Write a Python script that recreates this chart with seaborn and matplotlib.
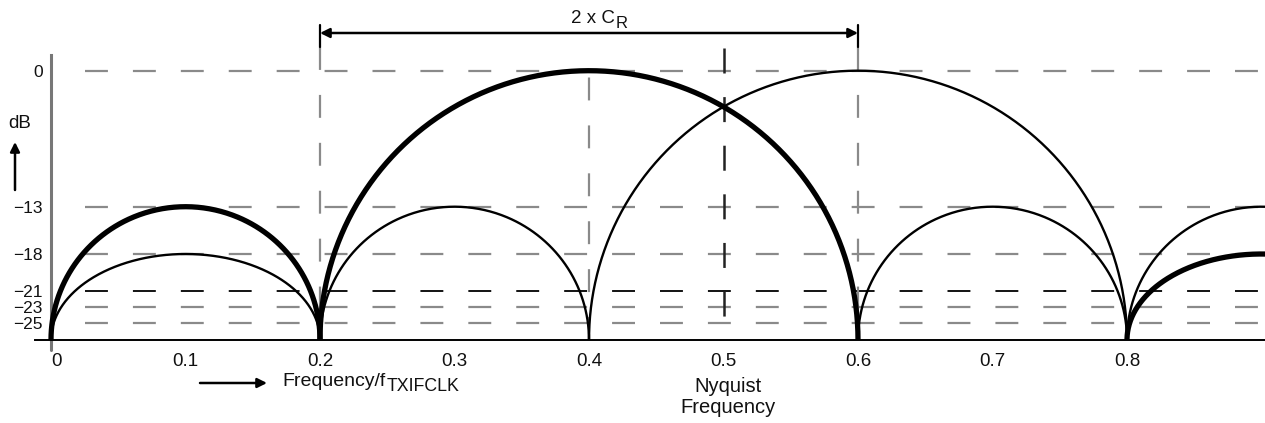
import numpy as np
import pandas as pd
import seaborn as sns
import matplotlib.pyplot as plt

# arcs of the spectrum: start / end frequency and peak level in dB
bold_start = [0.0, 0.2, 0.8]
bold_end = [0.2, 0.6, 1.0]
bold_peak = [-13, 0, -18]

thin_start = [0.0, 0.2, 0.4, 0.6, 0.8]
thin_end = [0.2, 0.4, 0.8, 0.8, 1.0]
thin_peak = [-18, -13, 0, -13, -13]

db_levels = [0, -13, -18, -21, -23, -25]
db_labels = ['0', '\u221213', '\u221218', '\u221221', '\u221223', '\u221225']
x_ticks = [0, 0.1, 0.2, 0.3, 0.4, 0.5, 0.6, 0.7, 0.8]
x_labels = ['0', '0.1', '0.2', '0.3', '0.4', '0.5', '0.6', '0.7', '0.8']

# the dB axis in the drawing is not evenly spaced:
# height above the floor (px) of each labelled level
scale_db = [-25, -23, -21, -18, -13, 0]
scale_h = [17, 33, 49.3, 86, 133.3, 269.3]

sns.set_theme(style='white')
plt.rcParams['font.family'] = ['Liberation Sans', 'DejaVu Sans']
plt.rcParams['lines.scale_dashes'] = False

# extend the piecewise scale linearly past both ends
lo_slope = (scale_h[1] - scale_h[0]) / (scale_db[1] - scale_db[0])
hi_slope = (scale_h[-1] - scale_h[-2]) / (scale_db[-1] - scale_db[-2])
db_ext = np.array([-80] + scale_db + [60], dtype=float)
h_ext = np.array([scale_h[0] - 55 * lo_slope] + scale_h + [scale_h[-1] + 60 * hi_slope])


def fwd(y):
    return np.interp(y, db_ext, h_ext)


def inv(h):
    return np.interp(h, h_ext, db_ext)


floor_db = float(inv(0))
top_db = float(inv(340))

# build the arcs (ellipses in drawing space)
rows = []
t = np.linspace(0, np.pi, 500)
for kind, st, en, pk in [('bold', bold_start, bold_end, bold_peak),
                         ('thin', thin_start, thin_end, thin_peak)]:
    for i, (a, b, p) in enumerate(zip(st, en, pk)):
        c, r = (a + b) / 2, (b - a) / 2
        xs = c + r * np.cos(t)
        ys = inv(fwd(p) * np.sin(t))
        rows.append(pd.DataFrame({'f': xs, 'db': ys, 'arc': f'{kind}{i}', 'kind': kind}))
df = pd.concat(rows, ignore_index=True)

fig = plt.figure(figsize=(12.65, 4.23), dpi=100)
ax = fig.add_axes([35 / 1265, 83 / 423, 1230 / 1265, 340 / 423])

sns.lineplot(data=df, x='f', y='db', units='arc', estimator=None, size='kind',
             sizes={'bold': 3.8, 'thin': 1.7}, color='black', sort=False,
             legend=False, ax=ax, zorder=5)

ax.set_yscale('function', functions=(fwd, inv))
ax.set_xlim(-16 / 1345, 1214 / 1345)
ax.set_ylim(floor_db, top_db)

grey = '#8a8a8a'
ink = '#111111'
dash = (0, (16.5, 18))
# horizontal level lines
for lvl in db_levels:
    col, lw = (('black', 1.3) if lvl == -21 else (grey, 1.6))
    ax.hlines(lvl, 0.0253, 0.95, colors=col, linewidth=lw, linestyles=[dash], zorder=2)

xt = ax.get_xaxis_transform()
# vertical markers
for xv in [0.2, 0.6]:
    ax.plot([xv, xv], [293 / 340, 0], transform=xt, color=grey, lw=1.6, ls=dash, zorder=2)
    ax.plot([xv, xv], [315 / 340, 293 / 340], transform=xt, color='black', lw=1.6, zorder=3)
ax.vlines(0.4, floor_db, 0, colors=grey, linewidth=1.6, linestyles=[dash], zorder=2)
ax.plot([0.5, 0.5], [292 / 340, 22 / 340], transform=xt, color='#222222', lw=1.8,
        ls=(0, (18, 17)), zorder=3)

ax.annotate('', xy=(0.2, 307 / 340), xytext=(0.6, 307 / 340), xycoords=xt,
            arrowprops=dict(arrowstyle='<|-|>', color='black', lw=1.8,
                            mutation_scale=14, shrinkA=0, shrinkB=0))

# axes
for s in ['top', 'right']:
    ax.spines[s].set_visible(False)
ax.spines['left'].set_position(('data', 0))
ax.spines['left'].set_bounds(floor_db, float(inv(285)))
ax.spines['left'].set_color('#777777')
ax.spines['left'].set_linewidth(2.2)
ax.plot([0, 0], [0, -10 / 340], transform=xt, color='#777777', lw=2.2, clip_on=False)
ax.spines['bottom'].set_color('black')
ax.spines['bottom'].set_linewidth(1.4)

ax.set_yticks(db_levels)
ax.set_yticklabels(db_labels)
ax.yaxis.set_minor_locator(plt.NullLocator())
ax.tick_params(axis='y', direction='in', length=6, width=1.4, color='#777777',
               labelcolor=ink, pad=6, labelsize=12.5)
ax.set_xticks(x_ticks)
ax.set_xticklabels(x_labels)
ax.tick_params(axis='x', direction='in', length=7, width=1.3, color='black',
               labelcolor=ink, pad=9, labelsize=13.5)
ax.get_xticklabels()[0].set_horizontalalignment('left')
ax.set_xlabel('')
ax.set_ylabel('')

renderer = fig.canvas.get_renderer()


def text_with_sub(x, y, main, sub, size, sub_size, ha='left'):
    # main text in figure pixels, subscript placed right after it, lowered
    tm = ax.annotate(main, xy=(x, y), xycoords='figure pixels', ha=ha, va='center',
                     fontsize=size, color=ink)
    bb = tm.get_window_extent(renderer=renderer)
    ax.annotate(sub, xy=(bb.x1 + 1, y - 5), xycoords='figure pixels', ha='left',
                va='center', fontsize=sub_size, color=ink)


# captions
text_with_sub(571, 423 - 18, '2 x C', 'R', 13.5, 12)
fig.text(20 / 1265, 1 - 124 / 423, 'dB', ha='center', va='center', fontsize=13.5,
         color=ink)
ax.annotate('', xy=(15, 423 - 142), xytext=(15, 423 - 190), xycoords='figure pixels',
            arrowprops=dict(arrowstyle='-|>', color='black', lw=1.8, mutation_scale=14,
                            shrinkA=0, shrinkB=0))
ax.annotate('', xy=(267, 40), xytext=(200, 40), xycoords='figure pixels',
            arrowprops=dict(arrowstyle='-|>', color='black', lw=1.8, mutation_scale=14,
                            shrinkA=0, shrinkB=0))
text_with_sub(282, 42, 'Frequency/f', 'TXIFCLK', 14, 12.8)
ax.text(0.503, -57 / 340, 'Nyquist\nFrequency', transform=xt, ha='center', va='center',
        fontsize=14.5, color=ink, linespacing=1.15)

fig.savefig('out.png', dpi=100)
